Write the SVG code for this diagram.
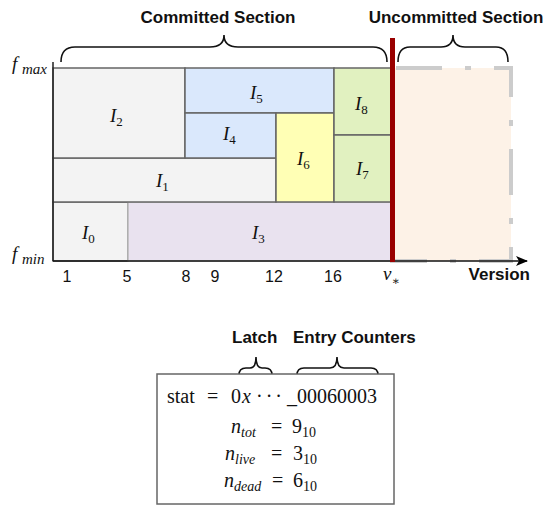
<svg xmlns="http://www.w3.org/2000/svg" width="550" height="506" viewBox="0 0 550 506">
<defs>
<style>
.box{stroke:#666;stroke-width:1.5}
.gray{fill:#f3f3f3}
.blue{fill:#dae8fc}
.yel{fill:#ffffb5}
.grn{fill:#e1f1c0}
.lav{fill:#e9e2ef}
.m{font-family:"Liberation Serif","DejaVu Serif",serif;font-style:italic;font-size:19px;fill:#111}
.mr{font-family:"Liberation Serif","DejaVu Serif",serif;font-size:20px;fill:#111}
.sub{font-size:13px;font-style:normal}
.lbl{font-family:"Liberation Sans",Arial,sans-serif;font-weight:bold;font-size:17px;fill:#111}
.num{font-family:"Liberation Sans",Arial,sans-serif;font-size:16px;fill:#111}
.brace{fill:none;stroke:#111;stroke-width:1.6}
</style>
<marker id="arr" viewBox="0 0 12 10" refX="11" refY="5" markerWidth="12" markerHeight="10" markerUnits="userSpaceOnUse" orient="auto">
<path d="M0,0 L12,5 L0,10 L3,5 Z" fill="#000"/>
</marker>
</defs>
<rect width="550" height="506" fill="#fff"/>

<g id="uncommitted">
<rect x="392" y="68" width="119" height="193" fill="#fdf2e7" stroke="#cccccc" stroke-width="4" stroke-dasharray="46 23 6 23" stroke-dashoffset="-4"/>
</g>

<g id="node-I0"><rect class="box gray" x="53" y="202" width="75" height="59"/>
<text class="m" y="239"><tspan x="82">I</tspan><tspan class="sub" y="243">0</tspan></text></g>
<g id="node-I3"><rect class="lav" x="128" y="202" width="264" height="59" stroke="#bbb" stroke-width="1.5"/>
<text class="m" y="239"><tspan x="252">I</tspan><tspan class="sub" y="243">3</tspan></text></g>
<g id="node-I1"><rect class="box gray" x="53" y="158" width="223" height="44"/>
<text class="m" y="187"><tspan x="156">I</tspan><tspan class="sub" y="191">1</tspan></text></g>
<g id="node-I2"><rect class="box gray" x="53" y="68" width="132" height="90"/>
<text class="m" y="122"><tspan x="110">I</tspan><tspan class="sub" y="126">2</tspan></text></g>
<g id="node-I5"><rect class="box blue" x="185" y="68" width="149" height="45"/>
<text class="m" y="99"><tspan x="250">I</tspan><tspan class="sub" y="103">5</tspan></text></g>
<g id="node-I4"><rect class="box blue" x="185" y="113" width="91" height="45"/>
<text class="m" y="140"><tspan x="223">I</tspan><tspan class="sub" y="144">4</tspan></text></g>
<g id="node-I6"><rect class="box yel" x="276" y="113" width="58" height="89"/>
<text class="m" y="165"><tspan x="297">I</tspan><tspan class="sub" y="169">6</tspan></text></g>
<g id="node-I8"><rect class="box grn" x="334" y="68" width="58" height="67"/>
<text class="m" y="110"><tspan x="355">I</tspan><tspan class="sub" y="114">8</tspan></text></g>
<g id="node-I7"><rect class="box grn" x="334" y="135" width="58" height="67"/>
<text class="m" y="175"><tspan x="356">I</tspan><tspan class="sub" y="179">7</tspan></text></g>

<g id="connectors">
<line x1="53" y1="62" x2="53" y2="261" stroke="#222" stroke-width="1.5"/>
<line x1="53" y1="261" x2="527" y2="261" stroke="#111" stroke-width="1.5" marker-end="url(#arr)"/>
<line x1="392.5" y1="38" x2="392.5" y2="262" stroke="#990000" stroke-width="5"/>
<path class="brace" d="M61 62 Q61 47 75 47 L210 47 Q224 47 224 35 Q224 47 238 47 L373 47 Q387 47 387 62"/>
<path class="brace" d="M398 62 Q398 47 410 47 L441 47 Q453 47 453 35 Q453 47 465 47 L496 47 Q508 47 508 62"/>
<path class="brace" d="M239 387 L239 375 Q239 368 246 368 L250 368 Q256 368 256 357 Q256 368 262 368 L265 368 Q272 368 272 375 L272 387"/>
<path class="brace" d="M297 385 L297 375 Q297 368 304 368 L330 368 Q337 368 337 357 Q337 368 344 368 L371 368 Q378 368 378 375 L378 385"/>
</g>

<g id="labels">
<text class="lbl" x="218" y="23" text-anchor="middle" font-size="17.5">Committed Section</text>
<text class="lbl" x="456" y="23" text-anchor="middle" font-size="17.5">Uncommitted Section</text>
<text class="m" y="70" font-size="20"><tspan x="12">f</tspan><tspan y="74" font-size="15" x="22">max</tspan></text>
<text class="m" y="260" font-size="20"><tspan x="12">f</tspan><tspan y="264" font-size="15" x="22">min</tspan></text>
<text class="num" y="282" text-anchor="middle"><tspan x="67">1</tspan><tspan x="127">5</tspan><tspan x="186">8</tspan><tspan x="215">9</tspan><tspan x="274">12</tspan><tspan x="333">16</tspan></text>
<text class="m" y="280"><tspan x="383">v</tspan><tspan y="285" font-size="12" font-style="normal">∗</tspan></text>
<text class="lbl" x="530" y="280" text-anchor="end">Version</text>
</g>

<g id="node-stat">
<rect x="157" y="374" width="237" height="130" fill="#fff" stroke="#666" stroke-width="1.5"/>
<text class="mr" y="403"><tspan x="167">stat</tspan><tspan x="207">=</tspan><tspan x="231">0</tspan><tspan x="242" font-style="italic">x</tspan><tspan x="256" letter-spacing="3">···</tspan><tspan x="287">_00060003</tspan></text>
<text class="mr" y="433"><tspan x="231" font-style="italic">n</tspan><tspan y="437" font-size="14" font-style="italic">tot</tspan><tspan x="271" y="433">=</tspan><tspan x="292">9</tspan><tspan y="437" font-size="14">10</tspan></text>
<text class="mr" y="460"><tspan x="225" font-style="italic">n</tspan><tspan y="464" font-size="14" font-style="italic">live</tspan><tspan x="271" y="460">=</tspan><tspan x="293">3</tspan><tspan y="464" font-size="14">10</tspan></text>
<text class="mr" y="487"><tspan x="224" font-style="italic">n</tspan><tspan y="491" font-size="14" font-style="italic">dead</tspan><tspan x="272" y="487">=</tspan><tspan x="293">6</tspan><tspan y="491" font-size="14">10</tspan></text>
<text class="lbl" x="232" y="343">Latch</text>
<text class="lbl" x="293" y="343">Entry Counters</text>
</g>
</svg>
